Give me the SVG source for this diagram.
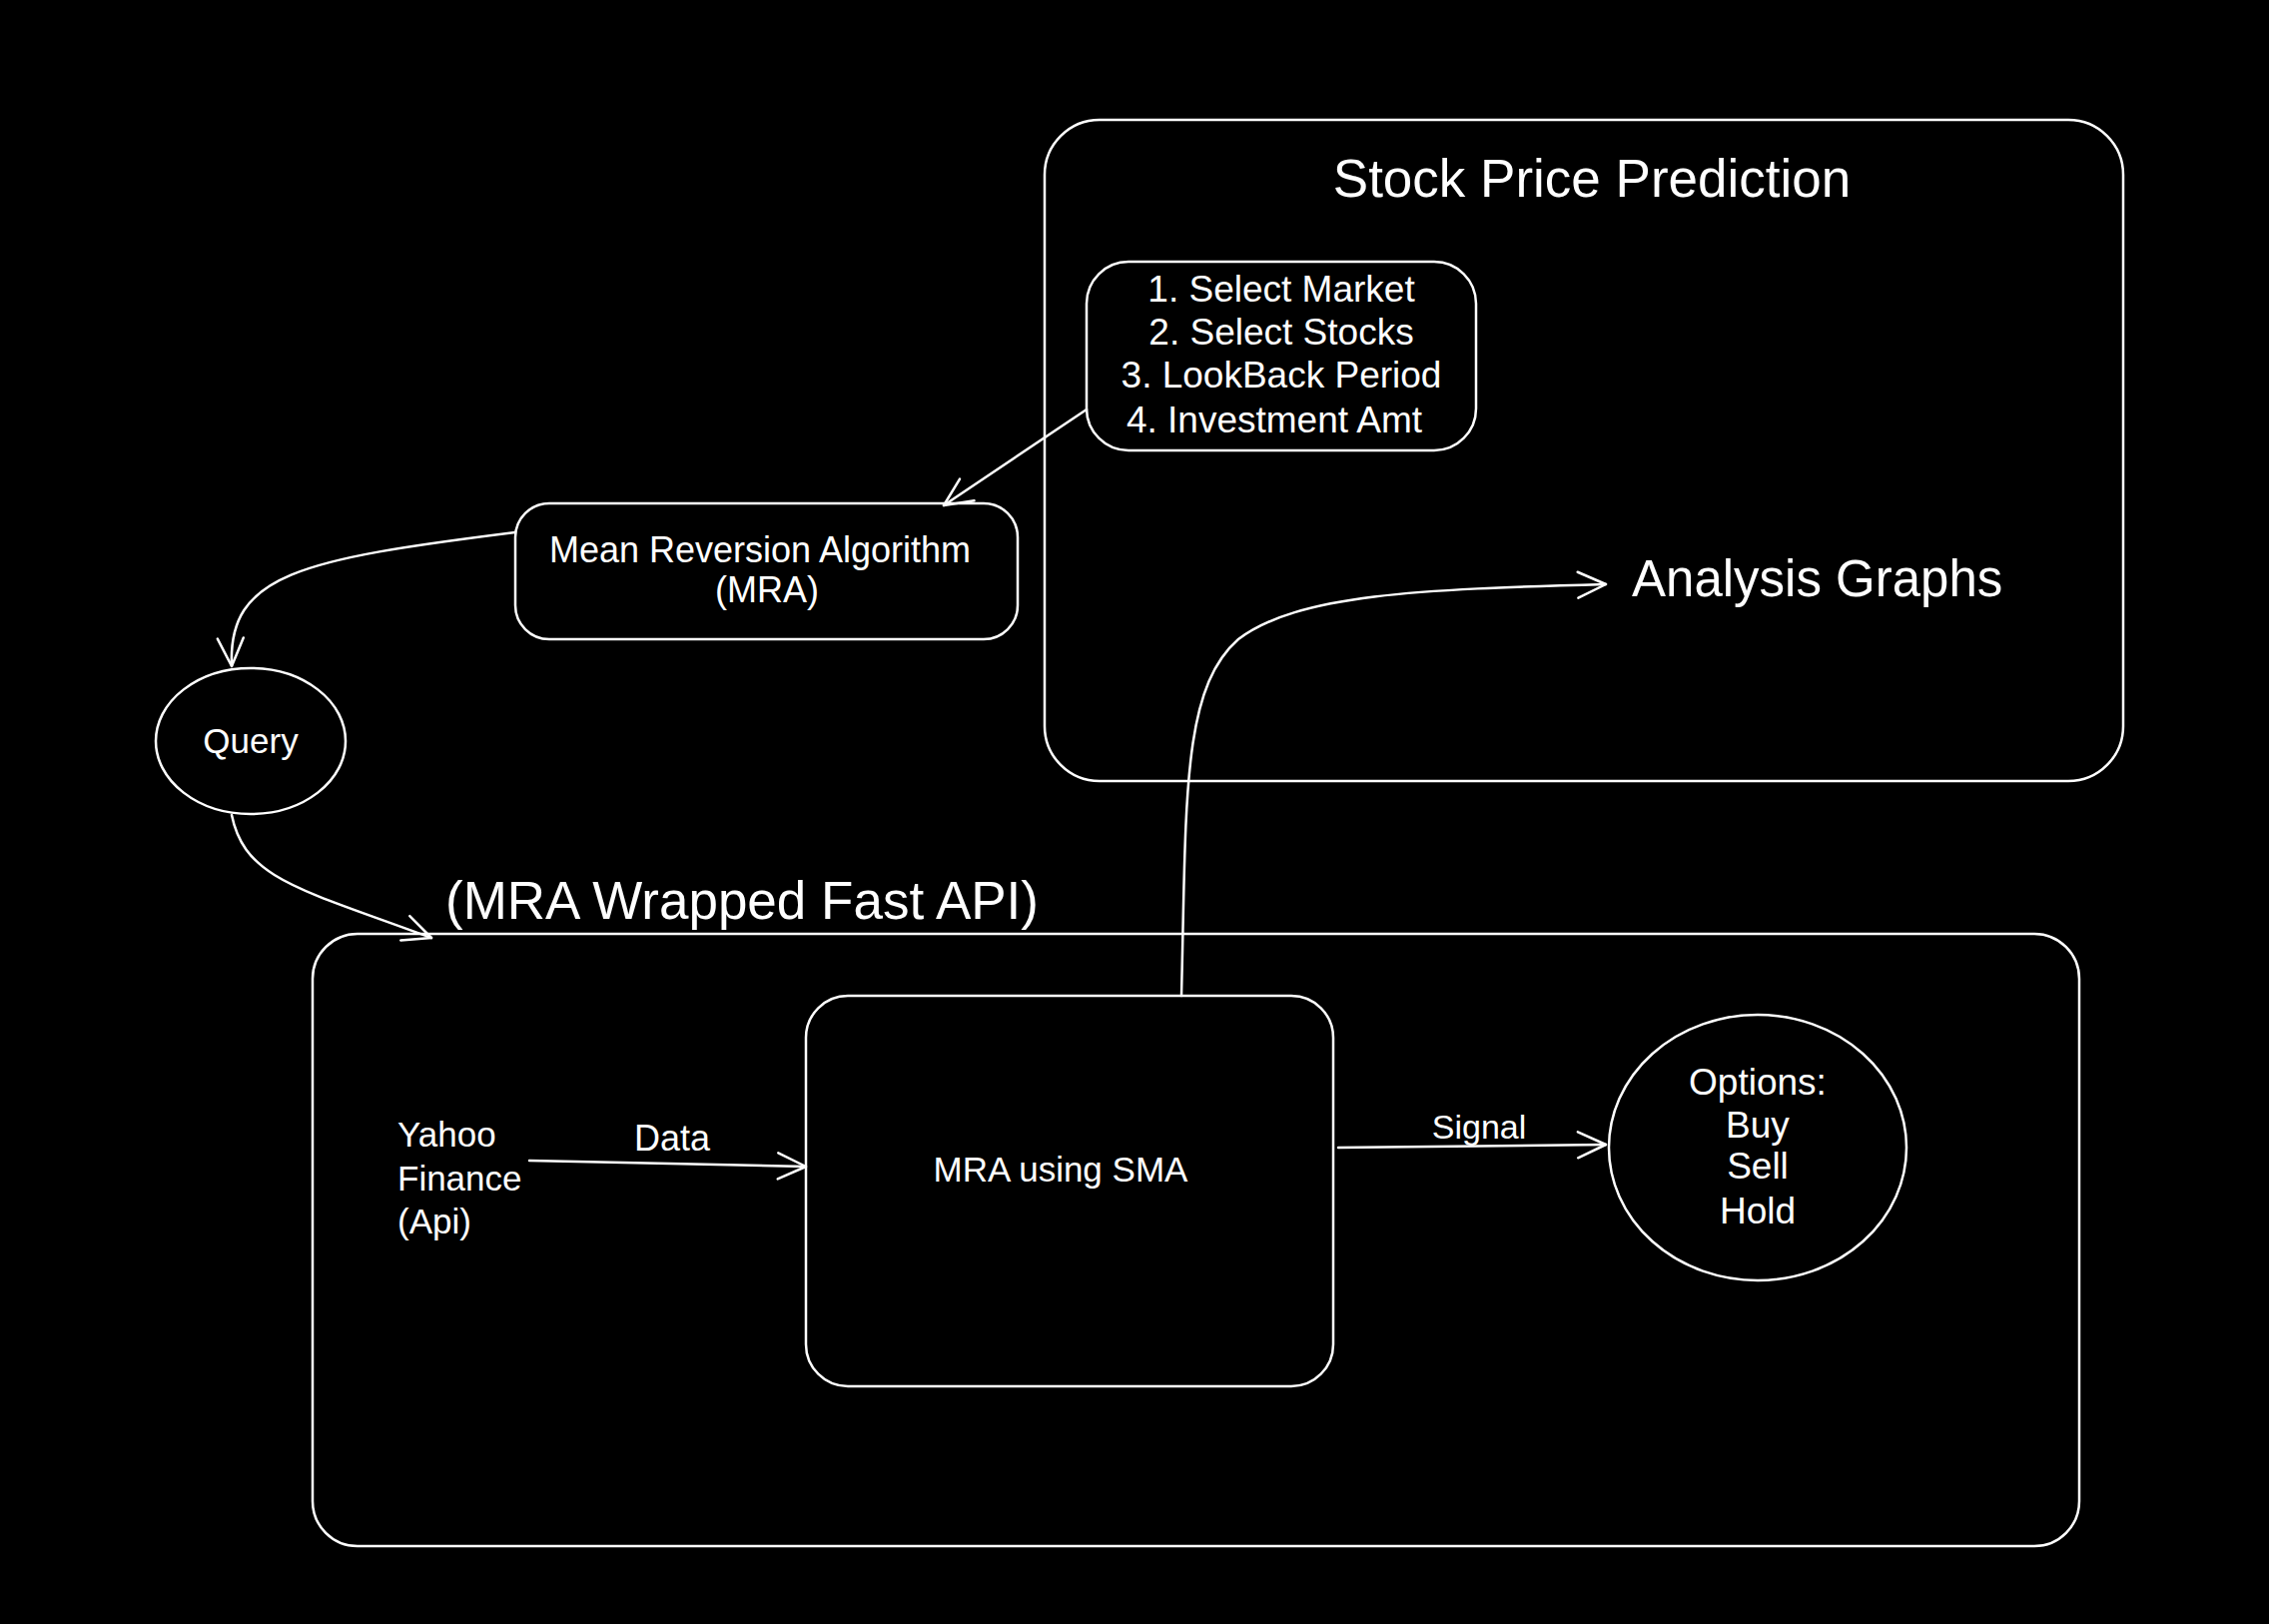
<svg xmlns="http://www.w3.org/2000/svg" width="2272" height="1626" viewBox="0 0 2272 1626">
<style>
.box{fill:none;stroke:#fff;stroke-width:2.5}
.ln{fill:none;stroke:#fff;stroke-width:2.5;stroke-linecap:round}
text{fill:#fff;font-family:"Liberation Sans",Arial,sans-serif}
.c{text-anchor:middle}
</style>
<defs>
<marker id="ah" markerWidth="40" markerHeight="40" refX="30" refY="15" orient="auto" markerUnits="userSpaceOnUse">
<path d="M2,2 L30,15 L2,28" fill="none" stroke="#fff" stroke-width="2.5" stroke-linecap="round" stroke-linejoin="round"/>
</marker>
</defs>
<rect width="2272" height="1626" fill="#000"/>
<g id="stock-price-prediction">
<rect class="box" x="1046" y="120" width="1080" height="662" rx="55"/>
<text class="c" x="1594" y="197" font-size="53">Stock Price Prediction</text>
</g>
<g id="inputs">
<rect class="box" x="1088" y="262" width="390" height="189" rx="42"/>
<text class="c" x="1283" y="302" font-size="37">1. Select Market</text>
<text class="c" x="1283" y="345" font-size="37">2. Select Stocks</text>
<text class="c" x="1283" y="388" font-size="37">3. LookBack Period</text>
<text class="c" x="1276" y="433" font-size="37">4. Investment Amt</text>
</g>
<g id="analysis-graphs">
<text x="1634" y="597" font-size="51">Analysis Graphs</text>
</g>
<g id="mra">
<rect class="box" x="516" y="504" width="503" height="136" rx="34"/>
<text class="c" x="761" y="563" font-size="36">Mean Reversion Algorithm</text>
<text class="c" x="768" y="603" font-size="36">(MRA)</text>
</g>
<g id="query">
<ellipse class="box" cx="251" cy="742" rx="95" ry="73"/>
<text class="c" x="251" y="754" font-size="35">Query</text>
</g>
<g id="fast-api">
<rect class="box" x="313" y="935" width="1769" height="613" rx="45"/>
<text x="446" y="920" font-size="53">(MRA Wrapped Fast API)</text>
</g>
<g id="yahoo">
<text x="398" y="1148" font-size="35">Yahoo</text>
<text x="398" y="1192" font-size="35">Finance</text>
<text x="398" y="1235" font-size="35">(Api)</text>
</g>
<g id="mra-sma">
<rect class="box" x="807" y="997" width="528" height="391" rx="42"/>
<text class="c" x="1062" y="1183" font-size="35">MRA using SMA</text>
</g>
<g id="options">
<ellipse class="box" cx="1760" cy="1149" rx="149" ry="133"/>
<text class="c" x="1760" y="1096" font-size="37">Options:</text>
<text class="c" x="1760" y="1139" font-size="37">Buy</text>
<text class="c" x="1760" y="1180" font-size="37">Sell</text>
<text class="c" x="1760" y="1225" font-size="37">Hold</text>
</g>
<g id="connectors">
<path class="ln" d="M1088,410 L945,506" marker-end="url(#ah)"/>
<path class="ln" d="M516,533 C300,560 228,575 232,667" marker-end="url(#ah)"/>
<path class="ln" d="M232,816 C245,880 300,890 432,939" marker-end="url(#ah)"/>
<path class="ln" d="M530,1162 L807,1168" marker-end="url(#ah)"/>
<path class="ln" d="M1340,1149 L1608,1146" marker-end="url(#ah)"/>
<path class="ln" d="M1183,997 C1188,800 1183,690 1240,640 C1300,595 1420,590 1608,585" marker-end="url(#ah)"/>
<text class="c" x="673" y="1152" font-size="36">Data</text>
<text class="c" x="1481" y="1140" font-size="34">Signal</text>
</g>
</svg>
